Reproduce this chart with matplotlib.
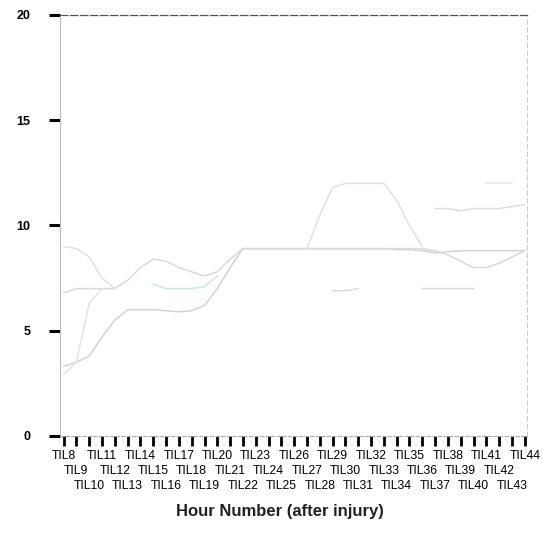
import numpy as np
import matplotlib.pyplot as plt

plt.rcParams['font.family'] = ['Liberation Sans', 'DejaVu Sans']

nan = np.nan
hours = ['TIL%d' % n for n in range(8, 45)]

# values (nan = no visible line)
s_low = [3.3, 3.5, 3.8, 4.7, 5.5, 6.0, 6.0, 6.0, 5.95, 5.9, 5.95, 6.2, 7.0, 8.0, 8.9,
         8.9, 8.9, 8.9, 8.9, 8.9, 8.9, 8.9, 8.9, 8.9, 8.9, 8.9, 8.85, 8.85, 8.8,
         8.7, 8.75, 8.8, 8.8, 8.8, 8.8, 8.8, 8.8]
s_mid = [6.8, 7.0, 7.0, 7.0, 7.0, 7.4, 8.0, 8.4, 8.3, 8.0, 7.8, 7.6, 7.8, 8.4, 8.9,
         8.9, 8.9, 8.9, 8.9, 8.9, 8.9, 8.9, 8.9, 8.9, 8.9, 8.9, 8.9, 8.9, 8.9,
         8.8, 8.6, 8.3, 8.0, 8.0, 8.2, 8.5, 8.8]
s_start = [9.0, 8.9, 8.5, 7.5, 7.0] + [nan] * 32
s_v = [2.9, 3.5, 6.3, 7.0] + [nan] * 33
s_green = [nan] * 7 + [7.2, 7.0, 7.0, 7.0, 7.1, 7.6] + [nan] * 24
s_high = [nan] * 19 + [8.9, 10.5, 11.8, 12.0, 12.0, 12.0, 12.0, 11.2, 10.0, 9.0] + [nan] * 8
s_late = [nan] * 29 + [10.8, 10.8, 10.7, 10.8, 10.8, 10.8, 10.9, 11.0]
s_top = [nan] * 33 + [12.0, 12.0, 12.0, nan]
s_seven = [nan] * 21 + [6.9, 6.9, 7.0] + [nan] * 4 + [7.0, 7.0, 7.0, 7.0, 7.0] + [nan] * 4

series = [s_low, s_mid, s_start, s_v, s_green, s_high, s_late, s_top, s_seven]
colors = ['#d3d3d3', '#d9d9d9', '#e0e0e0', '#e4e4e4', '#cbe8da',
          '#e2e2e2', '#dddddd', '#e6e6e6', '#dadada']

fig = plt.figure(figsize=(5.43, 5.33), dpi=100)
ax = fig.add_axes([0.110, 0.182, 0.860, 0.790])

x = np.arange(len(hours))
for vals, c in zip(series, colors):
    ax.plot(x, vals, color=c, linewidth=1.1)

ax.set_xlim(-0.3, 36.15)
ax.set_ylim(0, 20)

ax.spines['top'].set_color('#555555')
ax.spines['top'].set_linestyle((0, (6, 2)))
ax.spines['top'].set_linewidth(0.9)
ax.spines['right'].set_color('#cccccc')
ax.spines['right'].set_linestyle((0, (4, 3)))
ax.spines['left'].set_color('#bbbbbb')
ax.spines['bottom'].set_color('#aaaaaa')
ax.spines['bottom'].set_linestyle((0, (3, 2)))

ax.set_yticks([0, 5, 10, 15, 20])
ax.tick_params(axis='y', length=8, width=2.2, color='black', pad=13,
               labelsize=9)
for t in ax.get_yticklabels():
    t.set_fontweight('bold')

# three staggered rows of hour labels
row1 = x[0::3]
row2 = x[1::3]
row3 = x[2::3]
ax.set_xticks(row1)
ax.set_xticklabels(hours[0::3], fontsize=8.8)
ax.set_xticks(row2, minor=True)
ax.set_xticklabels(hours[1::3], minor=True, fontsize=8.8)
ax.tick_params(axis='x', which='major', length=7, width=2, color='black', pad=3)
ax.tick_params(axis='x', which='minor', length=7, width=2, color='black', pad=14)

sec = ax.secondary_xaxis('bottom')
sec.set_xticks(row3)
sec.set_xticklabels(hours[2::3], fontsize=8.8)
sec.tick_params(axis='x', length=7, width=2, color='black', pad=25)
sec.spines['bottom'].set_visible(False)

fig.text(0.515, 0.041, 'Hour Number (after injury)', fontsize=12,
         fontweight='bold', color='#222222', ha='center', va='center')

fig.savefig('out.png', dpi=100)
